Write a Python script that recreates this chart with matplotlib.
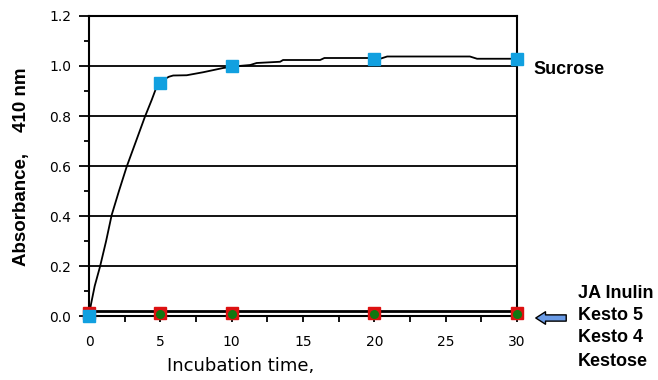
import matplotlib
matplotlib.use("Agg")
import matplotlib.pyplot as plt
from matplotlib.ticker import MultipleLocator

# ---- data ----
sample_times = [0, 5, 10, 20, 30]
sucrose_pts = [0.0, 0.933, 1.001, 1.029, 1.029]
kesto5_pts = [0.012, 0.012, 0.012, 0.012, 0.012]
kesto4_pts = [0.010, 0.010, 0.010, 0.010, 0.010]
inulin_pts = [0.004, 0.004, 0.004, 0.004, 0.004]
baseline_line = [0.02, 0.02, 0.02, 0.02, 0.02]

trace_t = [0, 0.15, 0.4, 0.77, 1.2, 1.59, 2.1, 2.64, 3.3, 3.92, 4.4, 4.74, 5.2,
           5.6, 5.9, 6.85, 8.0, 9.4, 10.5, 11.3, 11.75, 13.4, 13.6, 16.2, 16.5,
           20.0, 20.3, 20.9, 26.7, 27.2, 30]
trace_A = [0.0, 0.05, 0.12, 0.197, 0.30, 0.404, 0.50, 0.597, 0.70, 0.797, 0.865,
           0.917, 0.944, 0.957, 0.962, 0.963, 0.975, 0.992, 1.000, 1.004, 1.012,
           1.017, 1.024, 1.024, 1.032, 1.032, 1.027, 1.038, 1.038, 1.029, 1.029]

right_labels = ["JA Inulin", "Kesto 5", "Kesto 4", "Kestose"]

W, H = 658, 380
fig = plt.figure(figsize=(W / 100, H / 100), dpi=100)
ax = fig.add_axes([89 / W, 1 - 316 / H, (517 - 89) / W, (316 - 16) / H])

ax.set_xlim(0, 30)
ax.set_ylim(0, 1.2)

# gridlines
for g in [0.2, 0.4, 0.6, 0.8, 1.0]:
    ax.axhline(g, color="black", lw=1.3, zorder=1)

ax.plot(trace_t, trace_A, color="black", lw=1.3, zorder=3)
ax.plot(sample_times, baseline_line, color="black", lw=2.0, zorder=3, clip_on=False)

ax.plot(sample_times, inulin_pts, ls="none", marker="v", ms=5, color="#1a237e",
        zorder=4, clip_on=False)
ax.plot(sample_times, kesto5_pts, ls="none", marker="s", ms=9, color="#dd1111",
        zorder=5, clip_on=False)
ax.plot(sample_times, kesto4_pts, ls="none", marker="o", ms=5.5, color="#117711",
        zorder=6, clip_on=False)
ax.plot(sample_times, sucrose_pts, ls="none", marker="s", ms=9, color="#11a0e0",
        zorder=7, clip_on=False)

for s in ax.spines.values():
    s.set_linewidth(1.5)

ax.yaxis.set_major_locator(MultipleLocator(0.2))
ax.yaxis.set_minor_locator(MultipleLocator(0.1))
ax.xaxis.set_major_locator(MultipleLocator(5))
ax.xaxis.set_minor_locator(MultipleLocator(2.5))
ax.tick_params(axis="y", which="major", direction="out", length=7, width=1.3,
               labelsize=10, pad=6)
ax.tick_params(axis="y", which="minor", direction="out", length=3.5, width=1.3)
ax.tick_params(axis="x", which="both", direction="out", length=4, width=1.3,
               labelsize=10, pad=10)
ax.yaxis.set_major_formatter(plt.FuncFormatter(lambda v, p: f"{v:.1f}"))
ax.xaxis.set_major_formatter(plt.FuncFormatter(lambda v, p: f"{v:.0f}"))

fig.text(22 / W, 1 - 167 / H, "Absorbance,    410 nm", rotation=90,
         ha="center", va="center", fontsize=13.5, fontweight="bold",
         family="Liberation Sans")
fig.text(167 / W, 1 - 366 / H, "Incubation time,", ha="left", va="center",
         fontsize=13, family="DejaVu Sans")

fig.text(533 / W, 1 - 70 / H, "Sucrose", ha="left", va="center",
         fontsize=13, fontweight="bold", family="Liberation Sans")
for lab, yp in zip(right_labels, [294, 316, 338, 361]):
    fig.text(578 / W, 1 - yp / H, lab, ha="left", va="center",
             fontsize=13, fontweight="bold", family="Liberation Sans")

ax.annotate("", xy=(533, H - 318), xytext=(569, H - 318),
            xycoords="figure pixels", textcoords="figure pixels",
            arrowprops=dict(arrowstyle="simple,head_length=0.7,head_width=0.9,tail_width=0.45",
                            fc="#6a9be6", ec="black", lw=1))

fig.savefig("out.png", dpi=100)
